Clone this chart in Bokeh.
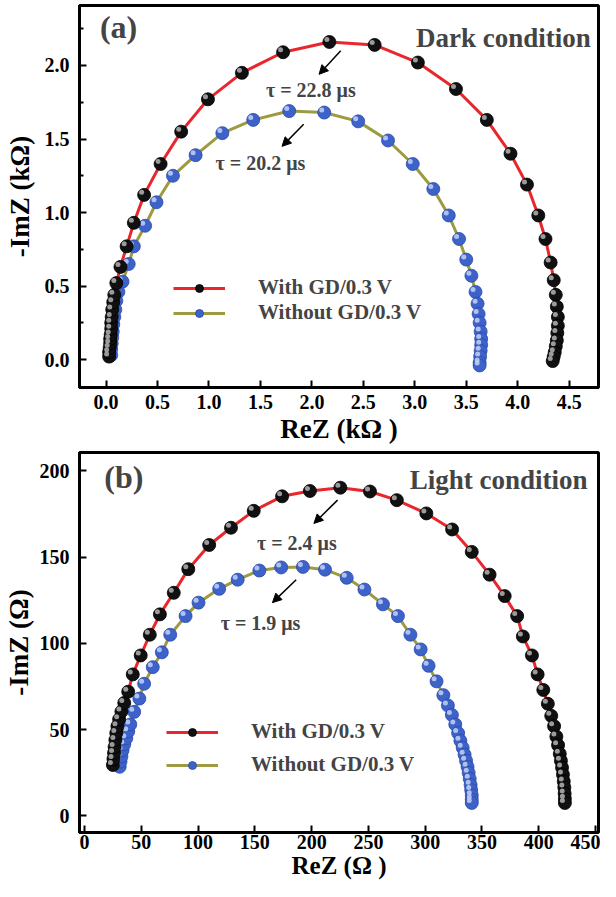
from bokeh.plotting import figure
from bokeh.layouts import column
from bokeh.models import (ColumnDataSource, Range1d, FixedTicker, Label, Arrow,
                          NormalHead, Legend, LegendItem)
from bokeh.embed import file_html
from bokeh.resources import INLINE

# ---------------- data : (a) dark condition (kOhm) ----------------
dark_with_re = [0.03, 0.03, 0.035, 0.04, 0.04, 0.045, 0.05, 0.05, 0.055, 0.06,
                0.07, 0.08, 0.10, 0.14, 0.20, 0.27, 0.37, 0.53, 0.73, 0.99,
                1.32, 1.72, 2.17, 2.61, 3.03, 3.40, 3.70, 3.93, 4.09, 4.20,
                4.27, 4.32, 4.35, 4.37, 4.38, 4.39, 4.39, 4.385, 4.38, 4.37,
                4.36, 4.35, 4.34]
dark_with_im = [0.02, 0.05, 0.08, 0.11, 0.14, 0.17, 0.21, 0.25, 0.29, 0.34,
                0.39, 0.44, 0.52, 0.63, 0.77, 0.93, 1.12, 1.33, 1.55, 1.77,
                1.95, 2.09, 2.16, 2.14, 2.02, 1.84, 1.63, 1.40, 1.19, 0.98,
                0.82, 0.66, 0.54, 0.44, 0.36, 0.29, 0.23, 0.18, 0.13, 0.09,
                0.05, 0.02, -0.01]
dark_without_re = [0.05, 0.05, 0.055, 0.06, 0.065, 0.07, 0.08, 0.09, 0.10, 0.12,
                   0.16, 0.22, 0.27, 0.38, 0.49, 0.65, 0.87, 1.13, 1.43, 1.78,
                   2.12, 2.45, 2.74, 2.98, 3.18, 3.33, 3.43, 3.50, 3.55, 3.59,
                   3.61, 3.62, 3.63, 3.64, 3.645, 3.645, 3.64, 3.635, 3.63, 3.63]
dark_without_im = [0.03, 0.07, 0.11, 0.15, 0.19, 0.24, 0.29, 0.34, 0.40, 0.46,
                   0.53, 0.65, 0.77, 0.91, 1.07, 1.25, 1.39, 1.54, 1.63, 1.69,
                   1.68, 1.62, 1.49, 1.33, 1.16, 0.98, 0.82, 0.68, 0.57, 0.46,
                   0.38, 0.31, 0.25, 0.19, 0.14, 0.10, 0.06, 0.02, -0.02, -0.04]

# ---------------- data : (b) light condition (Ohm) ----------------
light_with_re = [25, 25.5, 26, 26.5, 27.2, 28, 29, 30.5, 32.5, 35, 38.5, 42.5, 49.5,
                 57.5, 66.4, 78.6, 91.4, 109.8, 129, 149, 174, 198.5, 225.3, 251.4,
                 275, 301, 323.7, 341, 356.7, 370, 381,
                 386, 394, 399, 404, 408, 411, 413.5, 415.5, 417, 418.5, 419.5,
                 420.5, 421.3, 422, 422.5, 422.8, 423, 423]
light_with_im = [29.5, 33, 36.5, 40, 44, 48, 52, 56, 60.5, 65.5, 72, 82, 93,
                 105, 116.8, 129.3, 143, 157, 167, 176.8, 185.2, 188.3, 190.2, 188,
                 183, 175.3, 166, 153, 139.8, 127.4, 115.8,
                 104, 93, 82, 73, 65, 58, 52, 46, 41, 36, 32,
                 28, 24, 20, 16.5, 13, 10, 7.5]
light_without_re = [31, 31.7, 32.5, 33.5, 35, 36.8, 38.5, 40.3, 43.8, 48.3, 52.5,
                    60.1, 68.1, 75.5, 89, 100.4, 118.6, 134.9, 154, 173.2, 192.3,
                    211.8, 230.9, 246.5, 262.8, 276,
                    287, 296, 303, 310, 316, 320, 323.5, 326.5, 329, 331, 333,
                    334.7, 336, 337.3, 338.3, 339.2, 340, 340.5, 341, 341, 341]
light_without_im = [28.5, 31.5, 34.5, 38, 41.5, 45, 49, 53, 60.3, 68, 76.6,
                    86.2, 94.8, 105, 115.8, 123.6, 131.6, 136.9, 142.2, 144, 144.3,
                    142.7, 138, 131.2, 122.6, 115.8,
                    105, 96.5, 87, 78, 70, 64, 58.5, 53, 48, 43.5, 39.5,
                    35.5, 32, 28.5, 25, 21.5, 18, 15, 12, 9.5, 7.5]

series_names = ["With GD/0.3 V", "Without GD/0.3 V"]

dark_xticks = [0.0, 0.5, 1.0, 1.5, 2.0, 2.5, 3.0, 3.5, 4.0, 4.5]
dark_xtick_labels = ["0.0", "0.5", "1.0", "1.5", "2.0", "2.5", "3.0", "3.5", "4.0", "4.5"]
dark_yticks = [0.0, 0.5, 1.0, 1.5, 2.0]
dark_ytick_labels = ["0.0", "0.5", "1.0", "1.5", "2.0"]
dark_yminor = [0.25, 0.75, 1.25, 1.75, 2.25]

light_xticks = [0, 50, 100, 150, 200, 250, 300, 350, 400, 450]
light_xtick_labels = ["0", "50", "100", "150", "200", "250", "300", "350", "400", "450"]
light_yticks = [0, 50, 100, 150, 200]
light_ytick_labels = ["0", "50", "100", "150", "200"]
light_yminor = []

dark_tau_labels = ["\u03c4 = 22.8 \u03bcs", "\u03c4 = 20.2 \u03bcs"]
light_tau_labels = ["\u03c4 = 2.4 \u03bcs", "\u03c4 = 1.9 \u03bcs"]

# annotation placement (data coordinates)
dark_tau_pos = [(1.99, 1.83), (1.50, 1.34)]
dark_arrows = [((2.28, 2.10), (2.07, 1.94)), ((1.92, 1.60), (1.71, 1.45))]
light_tau_pos = [(187, 158), (155, 112)]
light_arrows = [((222.8, 183), (202, 169.5)), ((186.4, 136.9), (165.5, 123.6))]

FONT = "Liberation Serif"
RED = "#e8262b"
OLIVE = "#9d9a40"
BLUE = "#3d62c9"


def make_panel(w_re, w_im, wo_re, wo_im, xr, yr, xticks, xlabels, yticks, ylabels,
               yminor, xlabel, ylabel, tag, tag_pos, cond, cond_pos, taus, tau_pos,
               arrows, legend_loc, legend_spacing, height, border_top, border_bottom,
               x_std, x_lab_std, x_lab_size, y_lab_std):
    p = figure(width=600, height=height, output_backend="svg", toolbar_location=None,
               x_range=Range1d(*xr), y_range=Range1d(*yr),
               min_border_left=76, min_border_right=2, min_border_top=border_top,
               min_border_bottom=border_bottom)
    p.grid.visible = False
    p.outline_line_color = "black"
    p.outline_line_width = 3
    p.background_fill_color = "white"
    p.border_fill_color = "white"

    # sphere highlight offsets (about 2.5 px up-left)
    fw, fh = 522.0, 380.0
    dx = -2.5 * (xr[1] - xr[0]) / fw
    dy = 2.5 * (yr[1] - yr[0]) / fh

    s_w = ColumnDataSource(dict(x=w_re, y=w_im, hx=[v + dx for v in w_re], hy=[v + dy for v in w_im]))
    s_wo = ColumnDataSource(dict(x=wo_re, y=wo_im, hx=[v + dx for v in wo_re], hy=[v + dy for v in wo_im]))

    l_wo = p.line("x", "y", source=s_wo, line_color=OLIVE, line_width=3)
    c_wo = p.scatter("x", "y", source=s_wo, size=13, marker="circle",
                     fill_color=BLUE, line_color="#2a4aa8", line_width=0.8)
    p.scatter("hx", "hy", source=s_wo, size=5, marker="circle",
              fill_color="#c4d2f6", line_color=None, fill_alpha=0.85)

    l_w = p.line("x", "y", source=s_w, line_color=RED, line_width=3)
    c_w = p.scatter("x", "y", source=s_w, size=13, marker="circle",
                    fill_color="#101010", line_color="#000000", line_width=0.8)
    p.scatter("hx", "hy", source=s_w, size=5, marker="circle",
              fill_color="#b4b4b4", line_color=None, fill_alpha=0.85)

    legend = Legend(items=[LegendItem(label=series_names[0], renderers=[l_w, c_w]),
                           LegendItem(label=series_names[1], renderers=[l_wo, c_wo])],
                    location=legend_loc, glyph_width=52, glyph_height=20,
                    label_height=20, label_standoff=33, spacing=legend_spacing,
                    padding=0, margin=0, border_line_alpha=0,
                    background_fill_alpha=0,
                    label_text_font=FONT, label_text_font_style="bold",
                    label_text_font_size="21px")
    p.add_layout(legend, "center")

    for ax in (p.xaxis[0], p.yaxis[0]):
        ax.axis_line_width = 3
        ax.axis_line_color = "black"
        ax.major_tick_in = 7
        ax.major_tick_out = 0
        ax.major_tick_line_width = 2
        ax.minor_tick_in = 4
        ax.minor_tick_out = 0
        ax.minor_tick_line_width = 2
        ax.major_label_text_font = FONT
        ax.major_label_text_font_style = "bold"
        ax.major_label_text_font_size = "20px"
        ax.major_label_text_color = "black"
        ax.axis_label_text_font = FONT
        ax.axis_label_text_font_style = "bold"
        ax.axis_label_text_font_size = "27px"
        ax.axis_label_text_color = "black"
    p.xaxis[0].ticker = FixedTicker(ticks=xticks, minor_ticks=[])
    p.xaxis[0].major_label_overrides = {t: s for t, s in zip(xticks, xlabels)}
    p.xaxis[0].major_label_standoff = x_std
    p.xaxis[0].axis_label_standoff = x_lab_std
    p.xaxis[0].axis_label_text_font_size = x_lab_size
    p.xaxis[0].axis_label = xlabel
    p.yaxis[0].ticker = FixedTicker(ticks=yticks, minor_ticks=yminor)
    p.yaxis[0].major_label_overrides = {t: s for t, s in zip(yticks, ylabels)}
    p.yaxis[0].major_label_standoff = 10
    p.yaxis[0].axis_label_standoff = y_lab_std
    p.yaxis[0].axis_label = ylabel

    p.add_layout(Label(x=tag_pos[0], y=tag_pos[1], text=tag, text_font=FONT,
                       text_font_style="bold", text_font_size="32px",
                       text_align="left", text_baseline="middle"))
    p.add_layout(Label(x=cond_pos[0], y=cond_pos[1], text=cond, text_font=FONT,
                       text_font_style="bold", text_font_size="27px",
                       text_align="right", text_baseline="middle"))
    for t, (tx, ty) in zip(taus, tau_pos):
        p.add_layout(Label(x=tx, y=ty, text=t, text_font=FONT,
                           text_font_style="bold", text_font_size="20px",
                           text_align="center", text_baseline="middle"))
    for (s, e) in arrows:
        p.add_layout(Arrow(end=NormalHead(size=9, fill_color="black", line_color="black"),
                           x_start=s[0], y_start=s[1], x_end=e[0], y_end=e[1],
                           line_width=1.5, line_color="black"))
    return p


p1 = make_panel(dark_with_re, dark_with_im, dark_without_re, dark_without_im,
                (-0.258, 4.785), (-0.19, 2.408),
                dark_xticks, dark_xtick_labels, dark_yticks, dark_ytick_labels, dark_yminor,
                "ReZ (k\u03a9 )", "-ImZ (k\u03a9)", "(a)", (-0.06, 2.265),
                "Dark condition", (4.71, 2.19), dark_tau_labels, dark_tau_pos, dark_arrows,
                (94, 62), 0, 448, 5, 61, 7, 2, "27px", 7)

p2 = make_panel(light_with_re, light_with_im, light_without_re, light_without_im,
                (-4.4, 452.6), (-9.6, 210.6),
                light_xticks, light_xtick_labels, light_yticks, light_ytick_labels, light_yminor,
                "ReZ (\u03a9 )", "-ImZ (\u03a9)", "(b)", (17.5, 196.4),
                "Light condition", (443, 194.9), light_tau_labels, light_tau_pos, light_arrows,
                (87, 55), 8, 433, 4, 10, 2, 0, "25px", 3)

layout = column(p1, p2)
open("out.html", "w").write(file_html(layout, INLINE))
